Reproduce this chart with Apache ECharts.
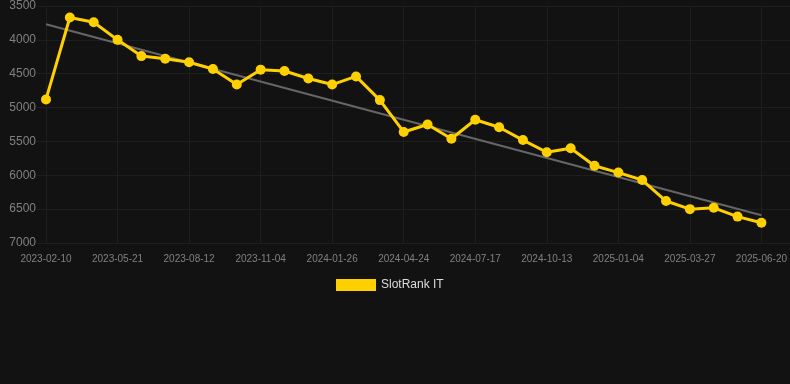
<!DOCTYPE html>
<html>
<head>
<meta charset="utf-8">
<script src="https://cdn.jsdelivr.net/npm/echarts@6/dist/echarts.min.js"></script>
<style>
html,body{margin:0;padding:0;background:#121212;}
#chart{width:790px;height:384px;}
</style>
</head>
<body>
<div id="chart"></div>
<script>
const categories = [
  "2023-02-10","2023-03-15","2023-04-18","2023-05-21","2023-06-18","2023-07-15",
  "2023-08-12","2023-09-09","2023-10-07","2023-11-04","2023-12-02","2023-12-29",
  "2024-01-26","2024-02-25","2024-03-26","2024-04-24","2024-05-22","2024-06-19",
  "2024-07-17","2024-08-15","2024-09-14","2024-10-13","2024-11-09","2024-12-07",
  "2025-01-04","2025-01-31","2025-02-28","2025-03-27","2025-04-24","2025-05-22",
  "2025-06-20"
];
const rankValues = [
  4880, 3670, 3740, 4000, 4240, 4280, 4330, 4430, 4660, 4440, 4460,
  4570, 4660, 4540, 4890, 5360, 5250, 5460, 5180, 5290, 5480,
  5660, 5600, 5860, 5960, 6070, 6380, 6500, 6480, 6610, 6700
];
const trendStart = 3770;
const trendEnd = 6590;
const yTicks = { min: 3500, max: 7000, step: 500 };
const seriesName = "SlotRank IT";

const chart = echarts.init(document.getElementById('chart'), null, { renderer: 'canvas' });
const gridColor = '#1e1e1e';
chart.setOption({
  backgroundColor: '#121212',
  animation: false,
  legend: {
    data: [seriesName],
    top: 274,
    left: 331,
    itemWidth: 40,
    itemHeight: 12,
    icon: 'rect',
    textStyle: { color: '#dddddd', fontSize: 12, fontFamily: 'Liberation Sans, Arial, sans-serif' }
  },
  grid: [
    { left: 37, right: 0, top: 6, bottom: 141, containLabel: false },
    { left: 46, right: 28, top: 6, bottom: 141, containLabel: false }
  ],
  xAxis: [
    { type: 'category', gridIndex: 0, data: categories, show: false },
    {
      type: 'category', gridIndex: 1, data: categories, boundaryGap: false,
      axisLine: { show: false },
      axisTick: { show: false },
      axisLabel: {
        interval: 2, color: '#808080', fontSize: 10, margin: 11,
        fontFamily: 'Liberation Sans, Arial, sans-serif'
      },
      splitLine: { show: true, interval: 2, lineStyle: { color: gridColor, width: 1 } }
    }
  ],
  yAxis: [
    {
      type: 'value', gridIndex: 0, inverse: true,
      min: yTicks.min, max: yTicks.max, interval: yTicks.step,
      axisLine: { show: false }, axisTick: { show: false },
      axisLabel: {
        color: '#808080', fontSize: 12, margin: 1,
        fontFamily: 'Liberation Sans, Arial, sans-serif',
        formatter: function (v) { return String(v); }
      },
      splitLine: { show: true, lineStyle: { color: gridColor, width: 1 } }
    },
    {
      type: 'value', gridIndex: 1, inverse: true,
      min: yTicks.min, max: yTicks.max, interval: yTicks.step,
      show: false, splitLine: { show: false }
    }
  ],
  series: [
    {
      name: 'trend', type: 'line', xAxisIndex: 1, yAxisIndex: 1,
      data: [[categories[0], trendStart], [categories[categories.length - 1], trendEnd]],
      symbol: 'none', silent: true,
      lineStyle: { color: '#666666', width: 2 },
      z: 1
    },
    {
      name: seriesName, type: 'line', xAxisIndex: 1, yAxisIndex: 1,
      data: rankValues,
      symbol: 'circle', symbolSize: 10,
      itemStyle: { color: '#FFD000' },
      lineStyle: { color: '#FFD000', width: 3 },
      z: 2
    }
  ]
});
</script>
</body>
</html>
